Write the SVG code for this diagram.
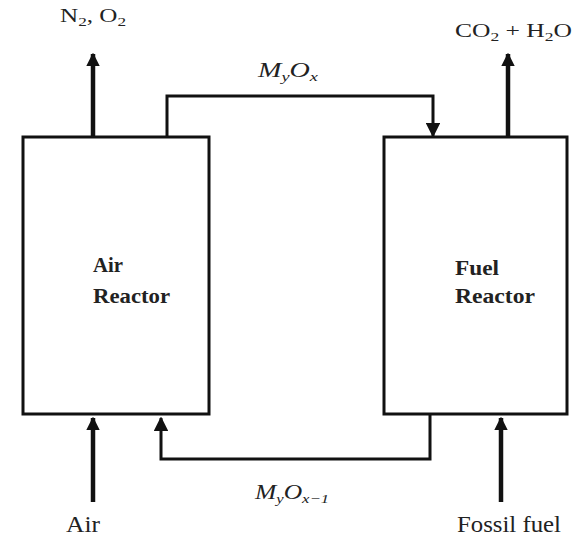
<svg xmlns="http://www.w3.org/2000/svg" width="577" height="539" viewBox="0 0 577 539">
<defs>
<marker id="ah" viewBox="0 0 10 10" refX="9" refY="5" markerWidth="3" markerHeight="3.2" orient="auto" markerUnits="strokeWidth">
<path d="M0,0 L10,5 L0,10 z" fill="#111"/>
</marker>
<marker id="ah2" viewBox="0 0 10 10" refX="9" refY="5" markerWidth="4.8" markerHeight="4.8" orient="auto" markerUnits="strokeWidth">
<path d="M0,0 L10,5 L0,10 z" fill="#111"/>
</marker>
<style>
.box{fill:#fff;stroke:#111;stroke-width:3}
.flow{fill:none;stroke:#111;stroke-width:4.5}
.conn{fill:none;stroke:#111;stroke-width:3}
.t{font-family:"Liberation Serif","Times New Roman",serif;font-size:19px;fill:#222}
.b{font-weight:bold;font-size:21px}
.i{font-style:italic;font-size:20px}
.s{font-size:13px}
.lg{font-size:23px}
</style>
</defs>
<g id="connectors">
<path class="flow" d="M93,137 L93,54" marker-end="url(#ah)"/>
<path class="flow" d="M508,137 L508,54" marker-end="url(#ah)"/>
<path class="flow" d="M93,502 L93,418" marker-end="url(#ah)"/>
<path class="flow" d="M501,502 L501,418" marker-end="url(#ah)"/>
<path class="conn" d="M167,137 L167,96 L433,96 L433,136" marker-end="url(#ah2)"/>
<path class="conn" d="M430,414 L430,459 L161,459 L161,418" marker-end="url(#ah2)"/>
</g>
<g id="air-reactor">
<rect class="box" x="23" y="137" width="186" height="277"/>
<text class="t b" x="93" y="272" textLength="30" lengthAdjust="spacingAndGlyphs">Air</text>
<text class="t b" x="93" y="303" textLength="77" lengthAdjust="spacingAndGlyphs">Reactor</text>
</g>
<g id="fuel-reactor">
<rect class="box" x="384" y="137" width="183" height="277"/>
<text class="t b" x="455" y="275" textLength="44" lengthAdjust="spacingAndGlyphs">Fuel</text>
<text class="t b" x="455" y="303" textLength="80" lengthAdjust="spacingAndGlyphs">Reactor</text>
</g>
<g id="labels">
<text class="t" x="60" y="22" textLength="66" lengthAdjust="spacingAndGlyphs">N<tspan class="s" dy="4">2</tspan><tspan dy="-4">, O</tspan><tspan class="s" dy="4">2</tspan></text>
<text class="t" x="455" y="37" textLength="117" lengthAdjust="spacingAndGlyphs">CO<tspan class="s" dy="4">2</tspan><tspan dy="-4"> + H</tspan><tspan class="s" dy="4">2</tspan><tspan dy="-4">O</tspan></text>
<text class="t i" x="258" y="77" textLength="60" lengthAdjust="spacingAndGlyphs">M<tspan class="s" dy="4">y</tspan><tspan dy="-4">O</tspan><tspan class="s" dy="4">x</tspan></text>
<text class="t i" x="255" y="499" textLength="74" lengthAdjust="spacingAndGlyphs">M<tspan class="s" dy="4">y</tspan><tspan dy="-4">O</tspan><tspan class="s" dy="4">x−1</tspan></text>
<text class="t lg" x="66" y="532" textLength="34" lengthAdjust="spacingAndGlyphs">Air</text>
<text class="t lg" x="457" y="532" textLength="104" lengthAdjust="spacingAndGlyphs">Fossil fuel</text>
</g>
</svg>
